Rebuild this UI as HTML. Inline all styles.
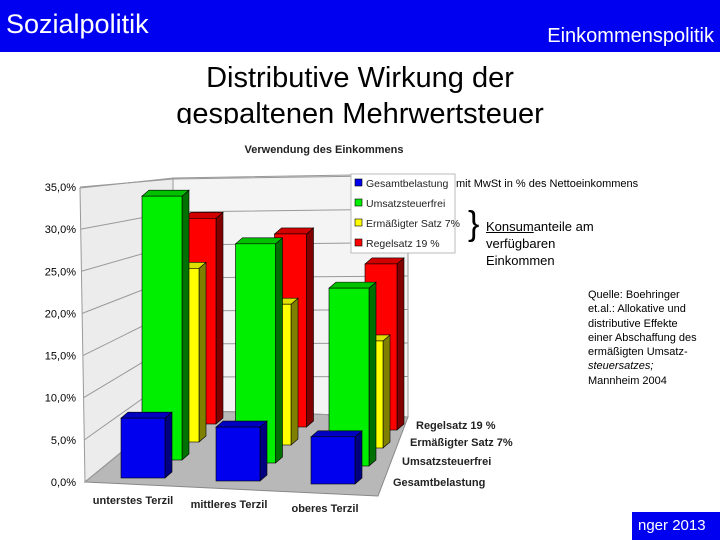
<!DOCTYPE html>
<html><head><meta charset="utf-8"><style>
body{margin:0;width:720px;height:540px;overflow:hidden;background:#fff;font-family:"Liberation Sans",sans-serif;position:relative}
.ab{position:absolute}
</style></head><body>
<div class="ab" style="left:0;top:0;width:720px;height:52px;background:#0000f0"></div>
<div class="ab" style="left:6px;top:9px;color:#fff;font-size:27px">Sozialpolitik</div>
<div class="ab" style="right:6px;top:25px;color:#fff;font-size:20px">Einkommenspolitik</div>
<div class="ab" style="left:0;top:60px;width:720px;height:64px;overflow:hidden;text-align:center;font-size:29px;line-height:36px;color:#000">Distributive Wirkung der<br>gespaltenen Mehrwertsteuer</div>
<div class="ab" style="left:632px;top:512px;width:88px;height:28px;background:#0000f0;color:#fff;font-size:15px;line-height:28px;padding-left:6px;box-sizing:border-box">nger 2013</div>
<div class="ab" style="left:456px;top:178px;font-size:11px">mit MwSt in % des Nettoeinkommens</div>
<div class="ab" style="left:468px;top:204px;font-size:34px;line-height:40px;font-weight:100">}</div>
<div class="ab" style="left:486px;top:218px;font-size:13px;line-height:17px"><u>Konsum</u>anteile am<br>verfügbaren<br>Einkommen</div>
<div class="ab" style="left:588px;top:288px;font-size:11px;line-height:14.3px">Quelle: Boehringer<br>et.al.: Allokative und<br>distributive Effekte<br>einer Abschaffung des<br>ermäßigten Umsatz-<br><i>steuersatzes;</i><br>Mannheim 2004</div>
<svg class="ab" style="left:0;top:0" width="720" height="540" id="chart"></svg>
<script>
const categories=["unterstes Terzil","mittleres Terzil","oberes Terzil"];
const seriesNames=["Gesamtbelastung","Umsatzsteuerfrei","Ermäßigter Satz 7%","Regelsatz 19 %"];
const gesamt=[7.1,6.4,5.6];
const steuerfrei=[31.3,26.0,21.1];
const ermaessigt=[20.6,16.7,12.7];
const regelsatz=[24.4,22.9,19.7];
const yTicks=[0,5,10,15,20,25,30,35];
const tickLabels=["0,0%","5,0%","10,0%","15,0%","20,0%","25,0%","30,0%","35,0%"];
const series=[gesamt,steuerfrei,ermaessigt,regelsatz];
const fronts=["#0000ee","#00ee00","#ffff00","#ff0000"];
const sides=["#000080","#007000","#808000","#800000"];
const tops=["#0000c0","#00c000","#e0e000","#d00000"];
const svg=document.getElementById('chart');
const NS='http://www.w3.org/2000/svg';
function mk(tag,attrs){const e=document.createElementNS(NS,tag);for(const k in attrs)e.setAttribute(k,attrs[k]);svg.appendChild(e);return e;}
const S=8.43;
function yLeft(v){return 482-v*S;}
function yBack(v){return 410-v*231/35;}
function barX(i,d){return 121+i*95+d*21-i*d*1.5;}
function barBase(i,d){return 478-d*18+i*3;}
function barW(d){return 44-4*d;}
let w=mk('polygon',{points:"85,482 173,410 173,178 80,188",fill:"#ececec",stroke:"#999"});

w=mk('polygon',{points:"173,410 408,417 408,174 173,178",fill:"#f4f4f4",stroke:"#999"});

w=mk('polygon',{points:"85,482 378,496 408,417 173,410",fill:"#b8b8b8",stroke:"#888"});

yTicks.forEach((t,k)=>{
  const yl=yLeft(t),yb=yBack(t);
  let g=mk('polyline',{points:`${85-t*0.14},${yl} 173,${yb} 408,${yb+(t==0?7:-0.1*t)}`,fill:"none",stroke:"#999","stroke-width":1});
  
  let tx=mk('text',{x:76,y:yl+4,"text-anchor":"end","font-size":11,"font-family":"Liberation Sans"});
  tx.textContent=tickLabels[k];
  
});
for(let d=3;d>=0;d--){
  for(let i=0;i<categories.length;i++){
    const v=series[d][i],x=barX(i,d),b=barBase(i,d),wd=barW(d),h=v*S,t=b-h,ox=7,oy=6;
    let s=mk('polygon',{points:`${x+wd},${b} ${x+wd+ox},${b-oy} ${x+wd+ox},${t-oy} ${x+wd},${t}`,fill:sides[d],stroke:"#000","stroke-width":0.6});
    
    let tp=mk('polygon',{points:`${x},${t} ${x+ox},${t-oy} ${x+wd+ox},${t-oy} ${x+wd},${t}`,fill:tops[d],stroke:"#000","stroke-width":0.6});
    
    let r=mk('rect',{x:x,y:t,width:wd,height:h,fill:fronts[d],stroke:"#000","stroke-width":0.6});
    
  }
}
categories.forEach((c,i)=>{
  let tx=mk('text',{x:133+i*96,y:504+i*4,"text-anchor":"middle","font-size":11,"font-weight":"bold","font-family":"Liberation Sans",fill:"#222"});
  tx.textContent=c;
});
const dpos=[[393,486],[402,465],[410,446],[416,429]];
seriesNames.forEach((n,d)=>{
  let tx=mk('text',{x:dpos[d][0],y:dpos[d][1],"font-size":11,"font-weight":"bold","font-family":"Liberation Sans",fill:"#222"});
  tx.textContent=n;
});
let tt=mk('text',{x:324,y:153,"text-anchor":"middle","font-size":11,"font-weight":"bold","font-family":"Liberation Sans",fill:"#222"});
tt.textContent="Verwendung des Einkommens";
let lb=mk('rect',{x:351,y:174,width:104,height:79,fill:"#fff",stroke:"#bbb"});

seriesNames.forEach((n,d)=>{
  const y=183+d*20;
  let sw=mk('rect',{x:355,y:y-4,width:7,height:7,fill:fronts[d],stroke:"#000","stroke-width":0.6});
  
  let tx=mk('text',{x:366,y:y+4,"font-size":10.5,"font-family":"Liberation Sans",fill:"#222"});
  tx.textContent=n;
});
</script>
</body></html>
